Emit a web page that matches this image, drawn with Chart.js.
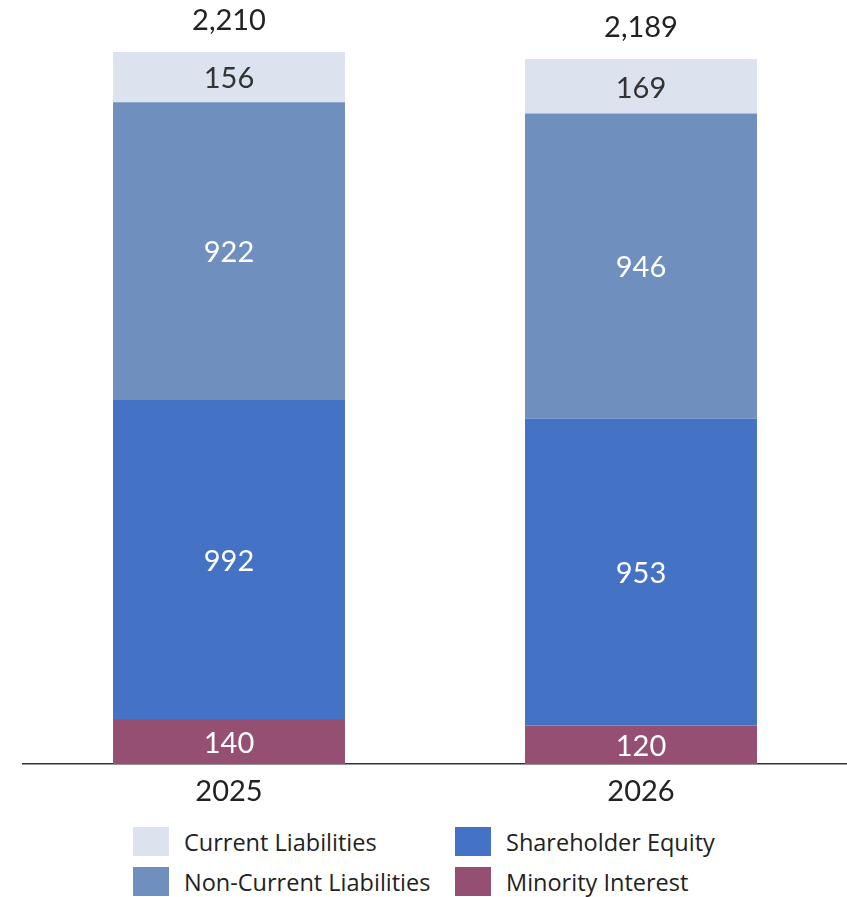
<!DOCTYPE html>
<html>
<head>
<meta charset="utf-8">
<script src="https://cdn.jsdelivr.net/npm/chart.js@4.4.1/dist/chart.umd.min.js"></script>
<style>
  html, body { margin: 0; padding: 0; background: #fff; }
  #wrap { width: 847px; height: 897px; position: relative; }
  #chartBox { width: 847px; height: 821px; position: relative; }
  #legend {
    position: absolute; left: 133px; top: 827px;
    display: grid; grid-template-columns: 322px 300px; row-gap: 11px;
    font-family: "Open Sans", "Noto Sans", sans-serif; font-size: 23.5px; color: #222;
  }
  .item { display: flex; align-items: center; height: 29px; }
  .swatch { width: 36px; height: 29px; margin-right: 15px; }
</style>
</head>
<body>
<div id="wrap">
  <div id="chartBox"><canvas id="bs"></canvas></div>
  <div id="legend"></div>
</div>
<script>
// === DATA ===
const years = ["2025", "2026"];
const minorityInterest = [140, 120];
const shareholderEquity = [992, 953];
const nonCurrentLiabilities = [922, 946];
const currentLiabilities = [156, 169];
const totals = [2210, 2189];

const numFont = "Lato, 'DejaVu Sans', sans-serif";

// stack bottom -> top
const datasets = [
  { label: "Minority Interest", data: minorityInterest, backgroundColor: "#954f72", labelColor: "#fff" },
  { label: "Shareholder Equity", data: shareholderEquity, backgroundColor: "#4472c4", labelColor: "#fff" },
  { label: "Non-Current Liabilities", data: nonCurrentLiabilities, backgroundColor: "#6f8fbe", labelColor: "#fff" },
  { label: "Current Liabilities", data: currentLiabilities, backgroundColor: "#dde3ee", labelColor: "#333" }
];

// === LABEL PLUGIN ===
const valueLabels = {
  id: "valueLabels",
  afterDatasetsDraw(chart) {
    const ctx = chart.ctx;
    ctx.save();
    ctx.font = "29px " + numFont;
    ctx.textAlign = "center";
    ctx.textBaseline = "middle";
    chart.data.datasets.forEach((ds, i) => {
      chart.getDatasetMeta(i).data.forEach((bar, j) => {
        ctx.fillStyle = ds.labelColor;
        ctx.fillText(ds.data[j].toLocaleString("en-US"), bar.x, (bar.y + bar.base) / 2 + 2);
      });
    });
    // totals above bars
    const top = chart.getDatasetMeta(chart.data.datasets.length - 1).data;
    ctx.fillStyle = "#222";
    top.forEach((bar, j) => {
      ctx.fillText(totals[j].toLocaleString("en-US"), bar.x, bar.y - 31);
    });
    ctx.restore();
  }
};

const chart = new Chart(document.getElementById("bs"), {
  type: "bar",
  data: { labels: years, datasets: datasets },
  options: {
    responsive: true,
    maintainAspectRatio: false,
    animation: false,
    layout: { padding: { left: 23, right: 0, top: 40, bottom: 10 } },
    datasets: { bar: { categoryPercentage: 1, barPercentage: 0.563, borderWidth: 0 } },
    scales: {
      x: {
        stacked: true,
        grid: { display: false },
        border: { display: true, color: "#333", width: 1.5 },
        ticks: { color: "#222", font: { family: numFont, size: 29 }, padding: 2 }
      },
      y: {
        stacked: true, display: false, min: 0, max: 2247
      }
    },
    plugins: { legend: { display: false }, tooltip: { enabled: false } }
  },
  plugins: [valueLabels]
});

// === LEGEND (row order as in the picture) ===
const legendOrder = [3, 1, 2, 0];
const legendEl = document.getElementById("legend");
legendOrder.forEach(i => {
  const ds = datasets[i];
  const item = document.createElement("div");
  item.className = "item";
  item.innerHTML = `<span class="swatch" style="background:${ds.backgroundColor}"></span><span>${ds.label}</span>`;
  legendEl.appendChild(item);
});
</script>
</body>
</html>
